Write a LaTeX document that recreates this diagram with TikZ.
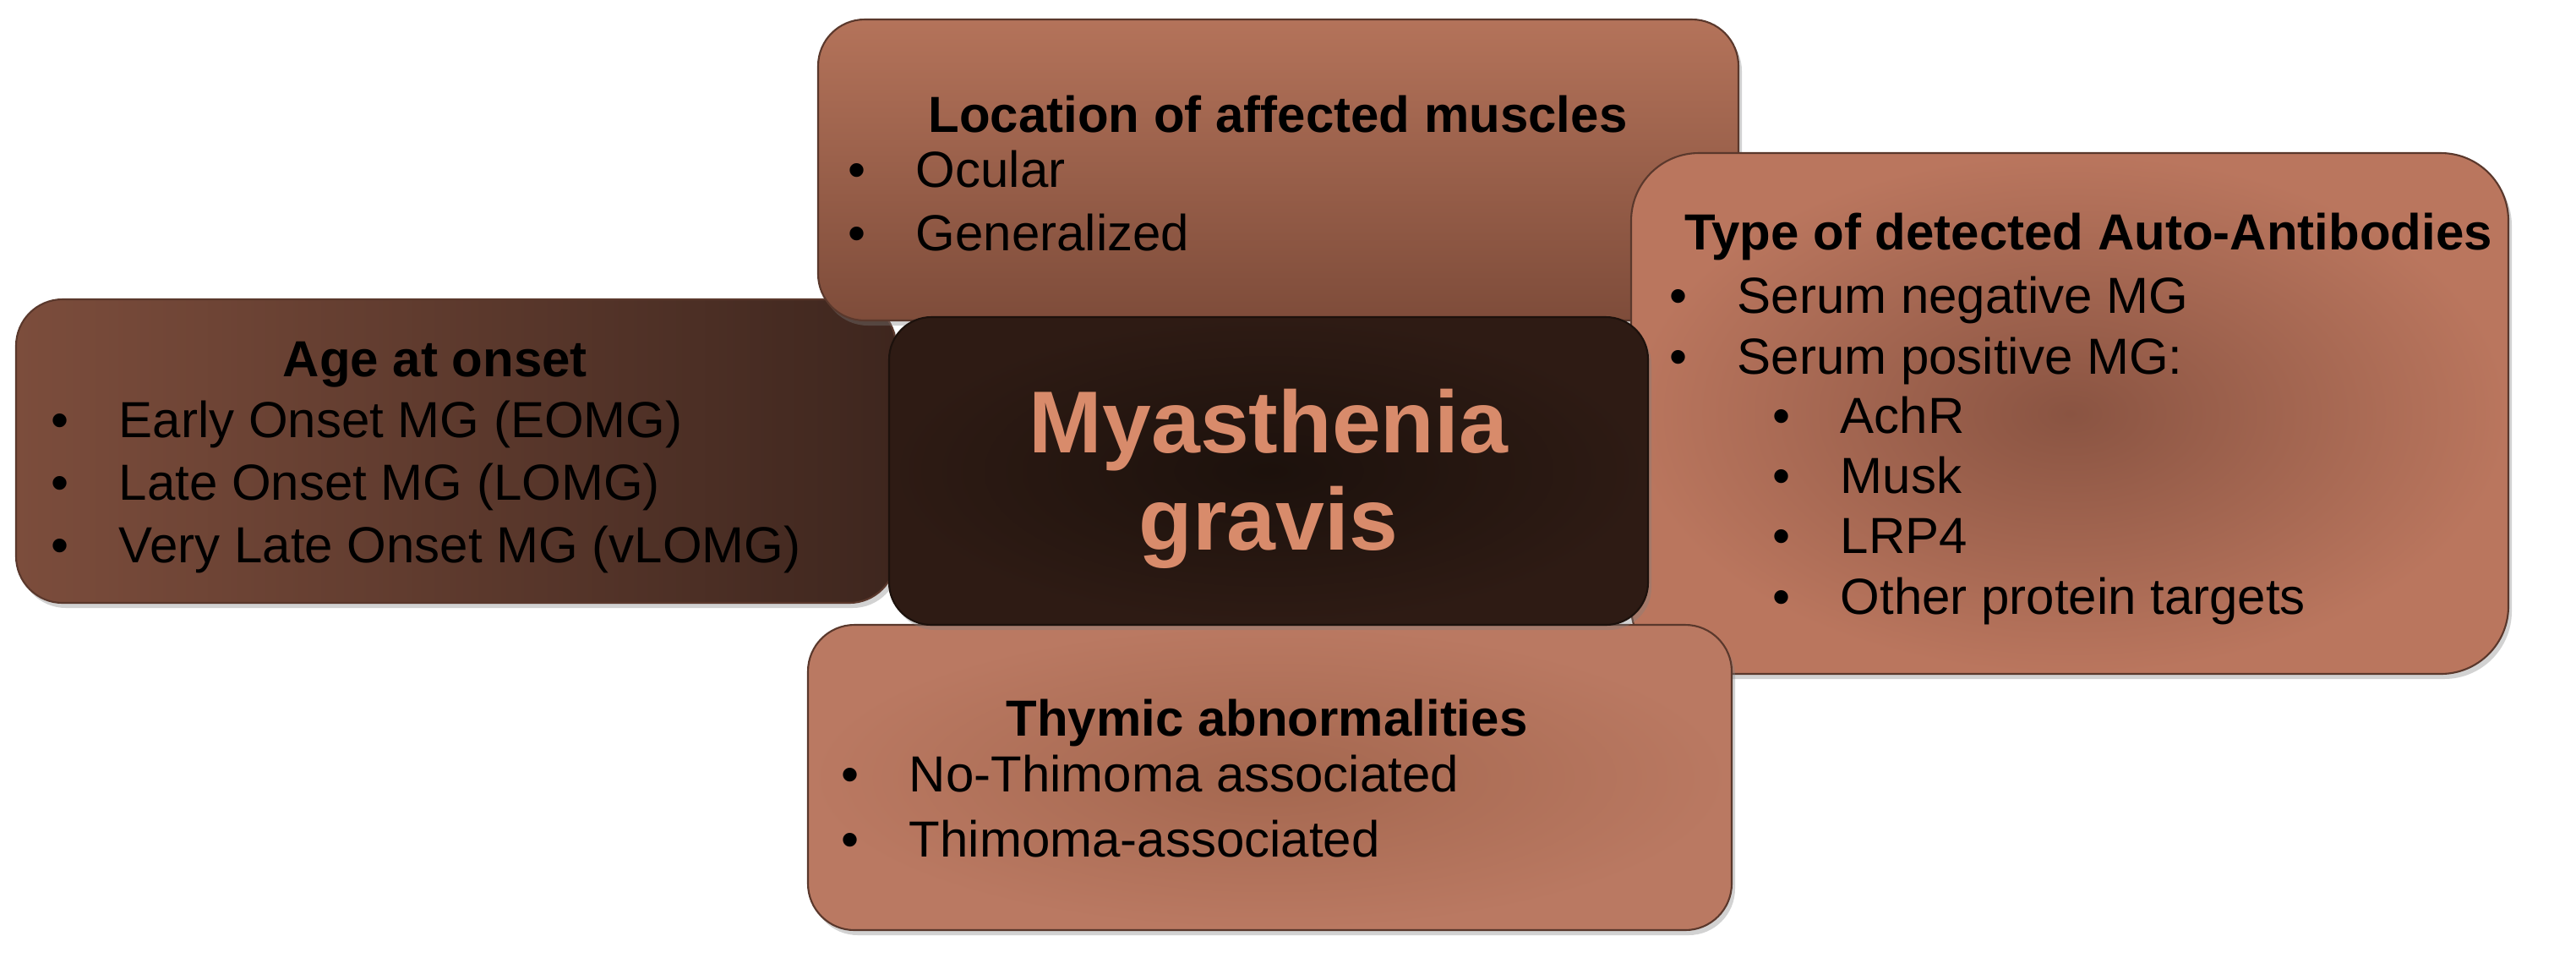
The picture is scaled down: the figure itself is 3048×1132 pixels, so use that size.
\documentclass[tikz,border=0pt]{standalone}
\usepackage{fontspec}
\setmainfont{Liberation Sans}
\usetikzlibrary{shadows}
\definecolor{boxedge}{HTML}{5A382C}
\definecolor{topA}{HTML}{B4735A}
\definecolor{topB}{HTML}{7E4C3A}
\definecolor{leftA}{HTML}{7C4D3C}
\definecolor{leftB}{HTML}{3E261E}
\definecolor{rightIn}{HTML}{8A5442}
\definecolor{rightOut}{HTML}{BA765E}
\definecolor{botIn}{HTML}{A4674F}
\definecolor{botOut}{HTML}{BA7962}
\definecolor{ctrIn}{HTML}{1C110C}
\definecolor{ctrOut}{HTML}{2E1B14}
\definecolor{ctrText}{HTML}{D88B6B}
\newcommand{\mybul}{\llap{\textbullet\hspace{5.9mm}}}
\tikzset{
  panel/.style={draw=boxedge, line width=0.6pt, rounded corners=5.5mm, inner sep=0pt,
    drop shadow={shadow xshift=0.4mm, shadow yshift=-0.6mm, opacity=0.35}},
  ttl/.style={anchor=base, inner sep=0pt, font=\fontsize{6mm}{7.2mm}\selectfont\bfseries, text=black},
  itm/.style={anchor=base west, inner sep=0pt, font=\fontsize{6mm}{7.2mm}\selectfont, text=black,
    execute at begin node=\mybul},
  big/.style={anchor=base, inner sep=0pt, font=\fontsize{10.4mm}{12mm}\selectfont\bfseries, text=ctrText},
}
\begin{document}
\begin{tikzpicture}[x=0.1mm,y=-0.1mm]
\useasboundingbox[fill=white] (0,0) rectangle (3048,1132);

% boxes (back to front)
\node[panel, left color=leftA, right color=leftB, minimum width=104.1mm, minimum height=35.9mm] (agebox) at (539.5,533.5) {};
\node[panel, top color=topA, bottom color=topB, minimum width=108.9mm, minimum height=35.6mm] (locbox) at (1512.5,201) {};
\node[panel, inner color=rightIn, outer color=rightOut, rounded corners=8mm, minimum width=103.8mm, minimum height=61.6mm] (abbox) at (2449,489) {};
\node[panel, inner color=botIn, outer color=botOut, minimum width=109.3mm, minimum height=36.1mm] (thybox) at (1502.5,919.5) {};
\node[panel, inner color=ctrIn, outer color=ctrOut, draw=ctrIn, rounded corners=5mm, minimum width=89.8mm, minimum height=36.4mm] (mgbox) at (1501,557) {};

% Age at onset
\node[ttl] (agettl) at (515,445) {Age at onset};
\node[itm] (age1) at (140,517) {Early Onset MG (EOMG)};
\node[itm] (age2) at (140,591) {Late Onset MG (LOMG)};
\node[itm] (age3) at (140,665) {Very Late Onset MG (vLOMG)};

% Location
\node[ttl] (locttl) at (1512,156) {Location of affected muscles};
\node[itm] (loc1) at (1083,221) {Ocular};
\node[itm] (loc2) at (1083,296) {Generalized};

% Auto-antibodies
\node[ttl] (abttl) at (2471,295) {Type of detected Auto-Antibodies};
\node[itm] (ab1) at (2055,370) {Serum negative MG};
\node[itm] (ab2) at (2055,442) {Serum positive MG:};
\node[itm] (ab3) at (2177,512) {AchR};
\node[itm] (ab4) at (2177,583) {Musk};
\node[itm] (ab5) at (2177,654) {LRP4};
\node[itm] (ab6) at (2177,726) {Other protein targets};

% Thymic
\node[ttl] (thyttl) at (1499,870) {Thymic abnormalities};
\node[itm] (thy1) at (1075,936) {No-Thimoma associated};
\node[itm] (thy2) at (1075,1013) {Thimoma-associated};

% Center
\node[big] (mg1) at (1501,535) {Myasthenia};
\node[big] (mg2) at (1501,650) {gravis};
\end{tikzpicture}
\end{document}
